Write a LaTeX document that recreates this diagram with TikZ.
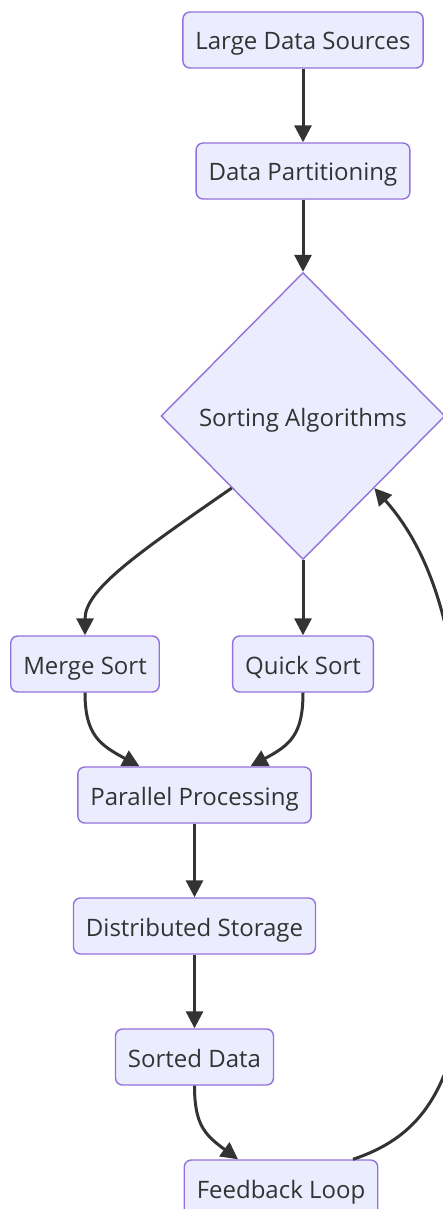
\documentclass[tikz,border=0pt]{standalone}
\usepackage{fontspec}
\setmainfont{Open Sans}
\usetikzlibrary{shapes.geometric,arrows.meta}
\definecolor{boxfill}{HTML}{ECECFF}
\definecolor{boxline}{HTML}{9370DB}
\definecolor{ink}{HTML}{333333}

\begin{document}
\begin{tikzpicture}[x=1pt,y=-1pt,
  box/.style={draw=boxline, fill=boxfill, line width=1.4pt, rounded corners=7pt,
    minimum height=56pt, inner xsep=12.5pt, text height=24pt, text depth=4pt,
    text=ink, font=\fontsize{24}{29}\selectfont},
  choice/.style={diamond, draw=boxline, fill=boxfill, line width=1.4pt, inner sep=0pt,
    minimum width=284pt, minimum height=287pt, text height=24pt, text depth=4pt,
    text=ink, font=\fontsize{24}{29}\selectfont},
  flow/.style={draw=ink, line width=3pt, -{Triangle[length=17pt,width=17pt]}}]
\useasboundingbox (0,0) rectangle (442,1209);

% Input side
\node[box] (lds) at (303,40) {Large Data Sources};
\node[box] (dp) at (303,171) {Data Partitioning};
\node[choice] (sa) at (303,416) {Sorting Algorithms};

% Two sort branches
\node[box] (ms) at (85,664) {Merge Sort};
\node[box] (qs) at (303,664) {Quick Sort};

% Output side
\node[box] (pp) at (194.5,795) {Parallel Processing};
\node[box] (ds) at (194.5,926) {Distributed Storage};
\node[box] (sd) at (194.5,1057) {Sorted Data};
\node[box] (fl) at (281,1188) {Feedback Loop};

% Straight links
\draw[flow] (lds) -- (dp);
\draw[flow] (dp) -- (sa);
\draw[flow] (sa.south) -- (qs.north);
\draw[flow] (pp) -- (ds);
\draw[flow] (ds) -- (sd);

% Curved links
\draw[flow] (sa.south west) .. controls (135,555) and (85,590) .. (ms.north);
\draw[flow] (ms.south) .. controls (85,735) and (100,745) .. ([xshift=-55pt]pp.north);
\draw[flow] (qs.south) .. controls (303,735) and (290,745) .. ([xshift=56pt]pp.north);
\draw[flow] (sd.south) .. controls (194.5,1125) and (205,1135) .. ([xshift=-43pt]fl.north);

% Feedback back into the sort step
\draw[flow] ([xshift=72pt]fl.north) .. controls (410,1140) and (462,1100) .. (465,950)
  .. controls (468,750) and (465,590) .. (sa.south east);
\end{tikzpicture}
\end{document}
